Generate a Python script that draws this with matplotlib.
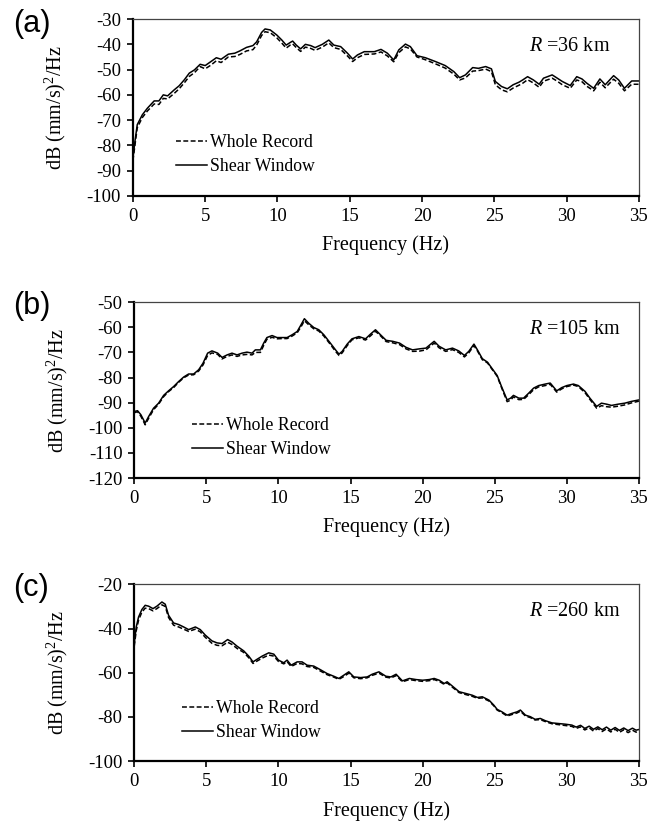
import matplotlib
matplotlib.use("Agg")
import matplotlib.pyplot as plt

plt.rcParams['font.family'] = 'Liberation Serif'
plt.rcParams['mathtext.fontset'] = 'custom'
plt.rcParams['mathtext.rm'] = 'Liberation Serif'
plt.rcParams['mathtext.it'] = 'Liberation Serif:italic'
plt.rcParams['axes.unicode_minus'] = False

# panel (a) R = 36 km
fa = [0, 0.15, 0.3, 0.65, 1.0, 1.47, 1.8, 2.1, 2.4, 2.86, 3.2, 3.56, 3.9, 4.26, 4.65, 5.0, 5.4, 5.77, 6.1, 6.6,
      7.05, 7.4, 7.86, 8.3, 8.56, 8.9, 9.14, 9.5, 9.95, 10.3, 10.6, 10.9, 11.05, 11.3, 11.6, 11.93, 12.3, 12.6,
      13.1, 13.55, 13.9, 14.37, 14.84, 15.2, 15.53, 16.0, 16.7, 17.16, 17.6, 18.04, 18.39, 18.85, 19.19, 19.65,
      20.23, 20.92, 21.6, 22.2, 22.6, 23.0, 23.5, 23.9, 24.4, 24.8, 25.07, 25.5, 25.9, 26.3, 26.7, 26.96, 27.3,
      27.7, 28.1, 28.4, 29.0, 29.3, 29.7, 30.25, 30.7, 31.06, 31.4, 31.87, 32.3, 32.67, 33.25, 33.6, 34.0, 34.5, 35.0]
shear_a = [-85, -78, -71.8, -67.9, -65.3, -62.4, -62.4, -60, -60.4, -58, -56.4, -54, -51.4, -50.1, -47.9, -48.4,
           -46.8, -45.3, -45.9, -43.9, -43.5, -42.6, -41.2, -40.5, -39, -35.3, -33.9, -34.3, -36.3, -38.3, -40.3,
           -39.2, -38.7, -40.3, -41.8, -40, -40.5, -41.3, -40, -38.3, -40.3, -40.9, -43.5, -45.8, -44.2, -42.9,
           -42.9, -42, -43.5, -46.2, -42.2, -39.9, -40.9, -44.5, -45.3, -46.8, -48.4, -50.8, -53.2, -52.1, -49.2,
           -49.5, -48.8, -49.7, -54.7, -56.7, -57.6, -56, -55, -54.1, -52.8, -54.1, -55.8, -53.4, -52.1, -53.2,
           -54.7, -56.3, -52.8, -53.7, -55.4, -57.4, -53.7, -56, -52.4, -54.1, -57.4, -54.5, -54.5]
whole_a = [-86, -79.5, -73, -69, -66.4, -63.6, -63.8, -61.4, -61.6, -59.4, -57.6, -55.2, -52.7, -51.2, -48.8,
           -49.7, -48.2, -46.5, -47.2, -45, -44.8, -44, -42.6, -42.1, -40.3, -36.5, -35, -35.4, -37.4, -39.5,
           -41.5, -40.2, -39.8, -41.3, -42.8, -41.1, -41.6, -42.4, -41.1, -39.4, -41.3, -42, -44.6, -46.8, -45.3,
           -44, -43.8, -43, -44.6, -46.9, -43.3, -41, -41.8, -45, -46.1, -47.7, -49.4, -51.8, -54.1, -53.3, -50.6,
           -50.4, -49.8, -50.8, -56, -58, -58.8, -57.3, -56.2, -55.4, -54, -55.3, -57, -54.6, -53.4, -54.4, -56,
           -57.4, -54.1, -54.8, -56.6, -58.4, -55, -57.2, -53.8, -55.4, -58.4, -55.8, -55.8]

# panel (b) R = 105 km
fb = [0, 0.23, 0.46, 0.76, 1.0, 1.34, 1.69, 2.04, 2.38, 2.73, 3.08, 3.43, 3.77, 4.12, 4.47, 4.77, 5.09, 5.39,
      5.79, 6.09, 6.44, 6.78, 7.13, 7.48, 7.82, 8.17, 8.4, 8.75, 8.98, 9.2, 9.56, 9.9, 10.25, 10.6, 10.95, 11.3,
      11.57, 11.8, 12.1, 12.45, 12.8, 13.15, 13.6, 13.96, 14.2, 14.42, 14.77, 15.1, 15.58, 16.04, 16.39, 16.73,
      17.08, 17.47, 17.93, 18.4, 18.85, 19.3, 19.77, 20.23, 20.5, 20.8, 21.15, 21.6, 22.07, 22.5, 22.9, 23.2,
      23.56, 23.8, 24.14, 24.5, 24.8, 25.17, 25.5, 25.86, 26.1, 26.3, 26.67, 27.0, 27.36, 27.7, 28.05, 28.5,
      28.85, 29.3, 29.65, 30.0, 30.46, 30.8, 31.26, 31.6, 32.07, 32.4, 32.76, 33.1, 33.56, 34.02, 34.48, 35.0]
shear_b = [-93.5, -93.2, -94.8, -98.1, -95.5, -92.2, -90.2, -87.1, -85.3, -83.6, -81.6, -79.8, -78.6, -78.6,
           -76.9, -74.3, -70.3, -69.4, -70.3, -72, -71, -70.3, -71, -70.3, -69.9, -70.3, -69, -69, -66.3, -64.1,
           -63.3, -64.1, -64.1, -64.1, -63, -61.7, -59, -56.6, -58.4, -60.1, -61, -63, -66.3, -69, -70.7, -69.6,
           -66.7, -64.6, -63.7, -64.6, -62.7, -61, -63, -65.2, -65.6, -66.3, -68, -69, -68.6, -68.3, -67, -65.6,
           -67.6, -69, -68.3, -69.4, -71.2, -69.6, -66.7, -69, -72.5, -73.9, -76.3, -79.2, -84, -88.9, -88.2,
           -87.1, -88.2, -88.2, -86.2, -84.2, -83.2, -82.6, -82.2, -85.3, -84, -83.2, -82.6, -83.2, -85.5, -88.2,
           -91.5, -90.2, -90.6, -91.1, -90.6, -90.2, -89.5, -88.9]
whole_b = [-94, -93.6, -95.4, -98.8, -96.2, -92.8, -90.6, -87.6, -85.6, -84, -81.9, -80.1, -79, -78.9, -77.4,
           -75, -71.2, -70.2, -70.8, -72.6, -71.6, -71, -71.6, -71, -70.8, -71, -70, -70, -67.2, -64.8, -64, -64.6,
           -64.5, -64.5, -63.5, -62.2, -59.8, -57.4, -59, -60.6, -61.5, -63.5, -66.8, -69.6, -71.2, -70.2, -67.3,
           -65, -64.2, -65.1, -63.4, -61.6, -63.4, -65.7, -66.2, -66.9, -68.6, -69.6, -69.5, -69, -67.7, -66.3,
           -68.2, -69.6, -68.9, -70, -71.8, -70.2, -67.3, -69.4, -72.9, -74.2, -76.6, -79.5, -84.4, -89.6, -89,
           -87.7, -88.8, -88.7, -86.8, -84.8, -83.7, -83.2, -82.7, -85.8, -84.5, -83.6, -83, -83.6, -86, -88.7,
           -92.2, -91.2, -91.6, -91.8, -91.4, -90.9, -90.1, -89.4]

# panel (c) R = 260 km
fc = [0, 0.14, 0.3, 0.53, 0.76, 1.0, 1.3, 1.57, 1.92, 2.15, 2.38, 2.73, 3.08, 3.43, 3.77, 4.24, 4.58, 4.93,
      5.39, 5.74, 6.09, 6.48, 6.78, 7.13, 7.59, 7.94, 8.24, 8.5, 8.87, 9.33, 9.68, 10.0, 10.37, 10.6, 10.88,
      11.3, 11.64, 11.99, 12.45, 12.9, 13.38, 13.84, 14.19, 14.54, 14.88, 15.23, 15.7, 16.16, 16.5, 16.97,
      17.45, 17.8, 18.16, 18.6, 19.08, 19.54, 20.0, 20.46, 20.8, 21.15, 21.5, 21.7, 22.07, 22.53, 23.0, 23.45,
      23.8, 24.14, 24.6, 24.94, 25.17, 25.5, 25.86, 26.2, 26.55, 26.78, 27.13, 27.47, 27.8, 28.16, 28.5, 28.97,
      29.43, 29.9, 30.35, 30.65, 30.95, 31.25, 31.55, 31.85, 32.15, 32.45, 32.75, 33.05, 33.35, 33.65, 33.95,
      34.25, 34.55, 34.8, 35.0]
shear_c = [-46.8, -39.3, -34.8, -31.4, -29.5, -29.9, -31, -29.9, -28, -29, -34, -37.5, -38.2, -39.3, -40.5,
           -39.3, -40.5, -43, -45.6, -46.5, -46.8, -45, -46.1, -48, -50.1, -52.5, -55.1, -54, -52.5, -51, -51.6,
           -54.3, -55.5, -54.3, -56.6, -55.1, -55.1, -56.6, -57, -58.6, -60.4, -61.6, -62.6, -61.1, -59.6, -61.9,
           -62.2, -61.9, -60.7, -59.6, -61.6, -61.9, -60.7, -63.7, -62.6, -63.1, -63.4, -63.1, -62.6, -63.4,
           -64.9, -64.1, -66.1, -68.6, -69.4, -70.2, -71.2, -70.9, -72.4, -74.7, -76.6, -77.7, -79.2, -78.4,
           -77.7, -76.9, -79.2, -79.9, -81.1, -80.7, -81.7, -82.7, -83, -83.3, -83.7, -84.6, -83.8, -85.2, -84.2,
           -85.6, -84.5, -85.8, -84.6, -86, -84.8, -86.1, -85, -86.2, -85.1, -86, -85.7]
whole_c = [-48, -41, -36.2, -32.6, -30.8, -31, -32, -31, -29.3, -30, -35, -38.5, -39.3, -40.3, -41.3, -40.3,
           -41.5, -44, -46.7, -47.6, -47.8, -46.2, -47.2, -49, -50.8, -53.2, -55.8, -54.8, -53.4, -52, -52.5,
           -54.9, -56, -55, -57.2, -55.8, -56, -57.2, -57.6, -59.2, -60.9, -62, -63, -61.7, -60.2, -62.3, -62.7,
           -62.3, -61.2, -60.2, -62, -62.4, -61.3, -64.1, -63.1, -63.6, -63.9, -63.6, -63.1, -63.9, -65.3, -64.6,
           -66.6, -69, -69.9, -70.7, -71.6, -71.4, -72.8, -75, -76.9, -78.1, -79.6, -78.9, -78.2, -77.4, -79.6,
           -80.3, -81.4, -81.2, -82.1, -83.1, -83.5, -83.9, -84.3, -85.2, -84.5, -85.9, -84.9, -86.4, -85.3,
           -86.6, -85.4, -86.8, -85.6, -87, -85.8, -87.1, -86, -86.9, -86.5]

panel_labels = ['(a)', '(b)', '(c)']
distances = ['36', '105', '260']
ylims = [(-100, -30), (-120, -50), (-100, -20)]
ysteps = [10, 10, 20]

fig = plt.figure(figsize=(6.58, 8.3), dpi=100)
# axes boxes in figure fraction: left, bottom, width, height
boxes = [(0.202, 0.764, 0.769, 0.213),
         (0.204, 0.424, 0.767, 0.212),
         (0.204, 0.083, 0.767, 0.213)]
leg_pos = [(0.085, 0.35), (0.115, 0.347), (0.095, 0.345)]
label_y = [1 - 24 / 830, 1 - 306 / 830, 1 - 588 / 830]

data = [(fa, whole_a, shear_a), (fb, whole_b, shear_b), (fc, whole_c, shear_c)]

for i, (f, whole, shear) in enumerate(data):
    ax = fig.add_axes(boxes[i])
    ax.plot(f, whole, color='black', lw=1.1, ls=(0, (3.2, 1.6)), label='Whole Record')
    ax.plot(f, shear, color='black', lw=1.1, label='Shear Window')
    ax.set_xlim(0, 35)
    ax.set_ylim(*ylims[i])
    ax.set_xticks(range(0, 36, 5))
    lo, hi = ylims[i]
    ax.set_yticks(range(lo, hi + 1, ysteps[i]))
    ax.tick_params(direction='out', length=4, width=1.2, labelsize=13.5, pad=4.5)
    for side in ['left', 'bottom']:
        ax.spines[side].set_linewidth(1.6)
    for side in ['top', 'right']:
        ax.spines[side].set_linewidth(0.9)
        ax.spines[side].set_color('#444444')
    ax.set_xlabel('Frequency (Hz)', fontsize=14.5)
    ax.xaxis.set_label_coords(0.5, -0.225)
    ax.set_ylabel('dB (mm/s)$^2$/Hz', fontsize=14.5)
    ax.yaxis.set_label_coords(-0.128, 0.5)
    ax.legend(loc='upper left', bbox_to_anchor=leg_pos[i], frameon=False, fontsize=12.8,
              handlelength=1.75, handletextpad=0.15, labelspacing=0.4, borderpad=0, borderaxespad=0)
    ax.text(0.783, 0.845, '$R$ =' + distances[i] + ' km', transform=ax.transAxes,
            fontsize=14.5, ha='left', va='center')
    fig.text(13 / 658, label_y[i], panel_labels[i], fontsize=22, family='Liberation Sans',
             ha='left', va='center')

fig.savefig('out.png', dpi=100)
